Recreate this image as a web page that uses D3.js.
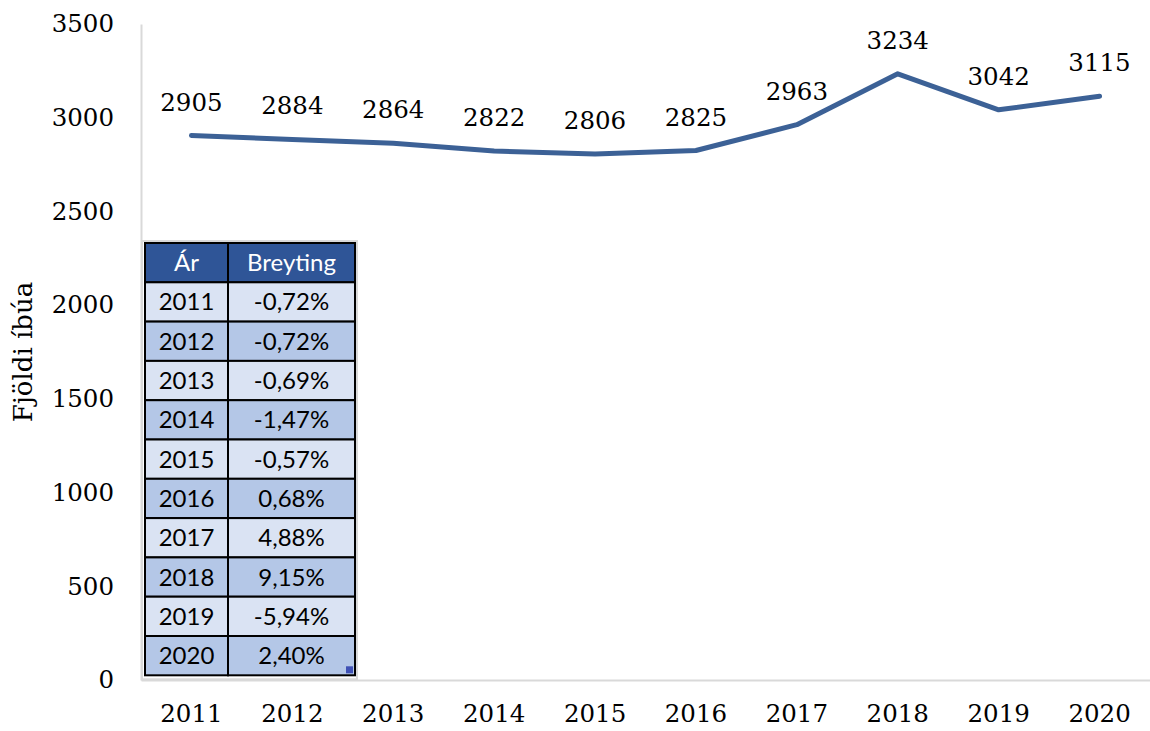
<!DOCTYPE html>
<html>
<head>
<meta charset="utf-8">
<script src="https://cdn.jsdelivr.net/npm/d3@7"></script>
<style>
  body { margin: 0; background: #fff; }
  svg { display: block; }
</style>
</head>
<body>
<svg id="chart" width="1150" height="731"></svg>
<script>
const years = ['2011', '2012', '2013', '2014', '2015', '2016', '2017', '2018', '2019', '2020'];
const residents = [2905, 2884, 2864, 2822, 2806, 2825, 2963, 3234, 3042, 3115];
const changeLabels = ['-0,72%', '-0,72%', '-0,69%', '-1,47%', '-0,57%', '0,68%', '4,88%', '9,15%', '-5,94%', '2,40%'];
const yTicks = [0, 500, 1000, 1500, 2000, 2500, 3000, 3500];
const tableHeader = ['Ár', 'Breyting'];

const serif = "'DejaVu Serif', 'Liberation Serif', serif";
const sans = "'Lato', 'Open Sans', sans-serif";

const svg = d3.select('#chart');
const margin = { left: 141, right: 0, top: 24, bottom: 51 };
const width = 1150, height = 731;

const x = d3.scaleBand().domain(years).range([margin.left, width - margin.right]);
const y = d3.scaleLinear().domain([0, 3500]).range([height - margin.bottom, margin.top]);

// axes
const yAxis = svg.append('g')
    .attr('transform', `translate(${margin.left},0)`)
    .call(d3.axisLeft(y).tickValues(yTicks).tickFormat(d3.format('d')).tickSize(0).tickPadding(27));
yAxis.select('.domain').attr('stroke', '#d9d9d9').attr('stroke-width', 2);
yAxis.selectAll('text').attr('font-family', serif).attr('font-size', 24.5).attr('fill', '#000');

const xAxis = svg.append('g')
    .attr('transform', `translate(0,${y(0)})`)
    .call(d3.axisBottom(x).tickSize(0).tickPadding(25));
xAxis.select('.domain').attr('stroke', '#d9d9d9').attr('stroke-width', 2);
xAxis.selectAll('text').attr('font-family', serif).attr('font-size', 24.5).attr('fill', '#000');

svg.append('text')
    .attr('transform', `translate(32,${(y(0) + y(3500)) / 2}) rotate(-90)`)
    .attr('text-anchor', 'middle')
    .attr('font-family', serif)
    .attr('font-size', 26)
    .text('Fjöldi íbúa');

// line
const line = d3.line()
    .x((d, i) => x(years[i]) + x.bandwidth() / 2)
    .y(d => y(d));

svg.append('path')
    .datum(residents)
    .attr('d', line)
    .attr('fill', 'none')
    .attr('stroke', '#3c6196')
    .attr('stroke-width', 5)
    .attr('stroke-linecap', 'round')
    .attr('stroke-linejoin', 'round');

svg.append('g').selectAll('text')
    .data(residents)
    .join('text')
    .attr('x', (d, i) => x(years[i]) + x.bandwidth() / 2)
    .attr('y', d => y(d) - 25)
    .attr('text-anchor', 'middle')
    .attr('font-family', serif)
    .attr('font-size', 24.5)
    .text(d => d);

// embedded table
const tbl = { x: 145, y: 243, col: [83, 127], rowH: 39.3 };
const tg = svg.append('g');
const rowsTotal = years.length + 1;

tg.append('rect')
    .attr('x', tbl.x - 3).attr('y', tbl.y - 2)
    .attr('width', tbl.col[0] + tbl.col[1] + 5)
    .attr('height', rowsTotal * tbl.rowH + 6)
    .attr('fill', 'none').attr('stroke', '#d9d9d9').attr('stroke-width', 2);

const tableRows = [tableHeader].concat(years.map((yr, i) => [yr, changeLabels[i]]));

tableRows.forEach((row, r) => {
    const fill = r === 0 ? '#2f5597' : (r % 2 === 1 ? '#dae3f3' : '#b4c7e7');
    let cx = tbl.x;
    row.forEach((cell, c) => {
        tg.append('rect')
            .attr('x', cx).attr('y', tbl.y + r * tbl.rowH)
            .attr('width', tbl.col[c]).attr('height', tbl.rowH)
            .attr('fill', fill).attr('stroke', '#000').attr('stroke-width', 2);
        tg.append('text')
            .attr('x', cx + tbl.col[c] / 2)
            .attr('y', tbl.y + r * tbl.rowH + tbl.rowH / 2 + 8.5)
            .attr('text-anchor', 'middle')
            .attr('font-family', sans)
            .attr('font-size', 24)
            .attr('fill', r === 0 ? '#fff' : '#000')
            .text(cell);
        cx += tbl.col[c];
    });
});

// resize handle
tg.append('rect')
    .attr('x', tbl.x + tbl.col[0] + tbl.col[1] - 9)
    .attr('y', tbl.y + rowsTotal * tbl.rowH - 9)
    .attr('width', 7).attr('height', 7)
    .attr('fill', '#3f51b5');
</script>
</body>
</html>
